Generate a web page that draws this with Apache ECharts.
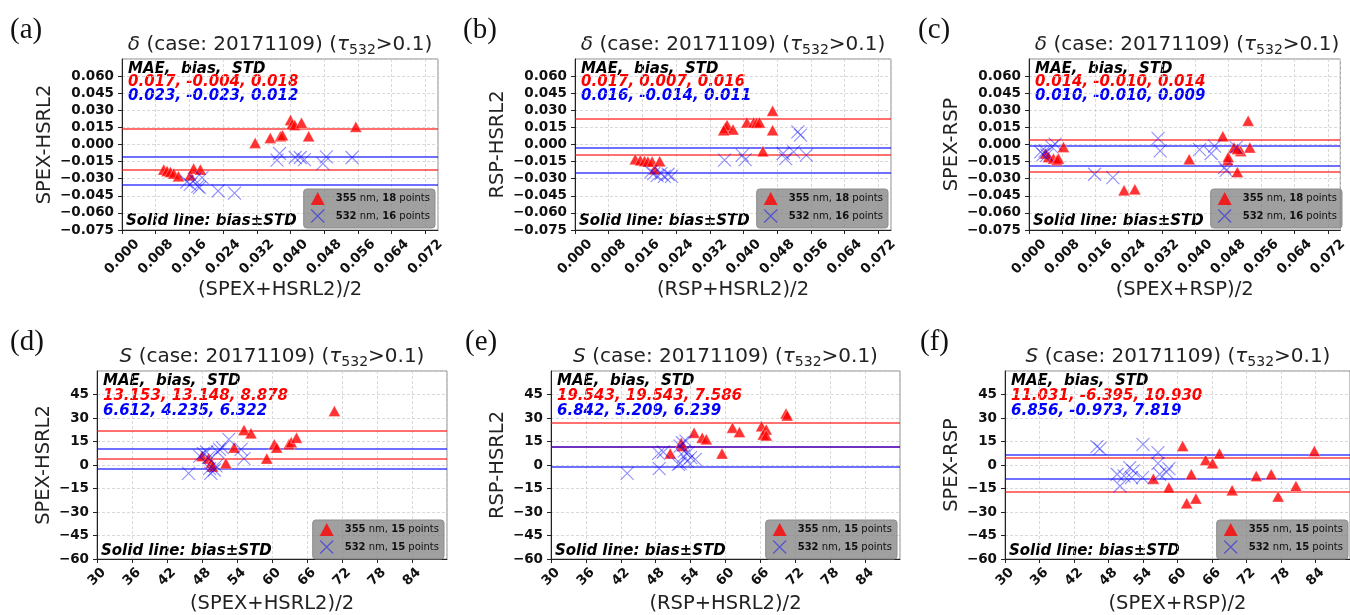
<!DOCTYPE html>
<html><head><meta charset="utf-8">
<script src="https://cdn.jsdelivr.net/npm/echarts@6/dist/echarts.min.js"></script>
<style>html,body{margin:0;padding:0;background:#fff}#c{width:1350px;height:615px}</style>
</head><body><div id="c"></div><script>
// ---------------- DATA ----------------
const panelLabels = ['(a)', '(b)', '(c)', '(d)', '(e)', '(f)'];
const varNames = ['δ', 'δ', 'δ', 'S', 'S', 'S'];
const caseId = '20171109';
const yNames = ['SPEX-HSRL2', 'RSP-HSRL2', 'SPEX-RSP', 'SPEX-HSRL2', 'RSP-HSRL2', 'SPEX-RSP'];
const xNames = ['(SPEX+HSRL2)/2', '(RSP+HSRL2)/2', '(SPEX+RSP)/2', '(SPEX+HSRL2)/2', '(RSP+HSRL2)/2', '(SPEX+RSP)/2'];
// [MAE, bias, STD]
const stats355 = [[0.017, -0.004, 0.018], [0.017, 0.007, 0.016], [0.014, -0.010, 0.014],
                  [13.153, 13.148, 8.878], [19.543, 19.543, 7.586], [11.031, -6.395, 10.930]];
const stats532 = [[0.023, -0.023, 0.012], [0.016, -0.014, 0.011], [0.010, -0.010, 0.009],
                  [6.612, 4.235, 6.322], [6.842, 5.209, 6.239], [6.856, -0.973, 7.819]];
const count355 = [18, 18, 18, 15, 15, 15];
const count532 = [16, 16, 16, 15, 15, 15];

// (a) delta SPEX-HSRL2
const a355x = [0.0099, 0.0107, 0.0115, 0.0123, 0.0134, 0.0162, 0.0170, 0.0186, 0.0316, 0.0352, 0.0376, 0.0381, 0.0400, 0.0404, 0.0410, 0.0426, 0.0443, 0.0555];
const a355y = [-0.0220, -0.0232, -0.0241, -0.0255, -0.0279, -0.0270, -0.0211, -0.0220, 0.0014, 0.0058, 0.0073, 0.0082, 0.0214, 0.0179, 0.0170, 0.0190, 0.0073, 0.0155];
const a532x = [0.0154, 0.0162, 0.0172, 0.0180, 0.0190, 0.0184, 0.0228, 0.0267, 0.0368, 0.0374, 0.0411, 0.0423, 0.0433, 0.0477, 0.0485, 0.0546];
const a532y = [-0.0329, -0.0349, -0.0308, -0.0367, -0.0290, -0.0378, -0.0408, -0.0426, -0.0138, -0.0079, -0.0114, -0.0114, -0.0132, -0.0167, -0.0109, -0.0114];
// (b) delta RSP-HSRL2
const b355x = [0.0143, 0.0155, 0.0165, 0.0173, 0.0183, 0.0189, 0.0201, 0.0357, 0.0361, 0.0375, 0.0408, 0.0424, 0.0431, 0.0438, 0.0469, 0.0469, 0.0446, 0.0353];
const b355y = [-0.0129, -0.0138, -0.0144, -0.0150, -0.0150, -0.0217, -0.0147, 0.0150, 0.0170, 0.0132, 0.0194, 0.0194, 0.0190, 0.0194, 0.0296, 0.0126, -0.0059, 0.0126];
const b532x = [0.0187, 0.0195, 0.0204, 0.0212, 0.0221, 0.0229, 0.0180, 0.0355, 0.0397, 0.0404, 0.0494, 0.0500, 0.0519, 0.0529, 0.0535, 0.0549];
const b532y = [-0.0255, -0.0273, -0.0255, -0.0279, -0.0261, -0.0279, -0.0241, -0.0138, -0.0094, -0.0132, -0.0079, -0.0123, -0.0065, 0.0111, 0.0082, -0.0094];
// (c) delta SPEX-RSP
const c355x = [0.0040, 0.0047, 0.0059, 0.0067, 0.0071, 0.0083, 0.0229, 0.0255, 0.0386, 0.0467, 0.0479, 0.0480, 0.0494, 0.0502, 0.0510, 0.0528, 0.0532, 0.0502];
const c355y = [-0.0079, -0.0109, -0.0123, -0.0138, -0.0123, -0.0021, -0.0402, -0.0393, -0.0129, 0.0073, -0.0138, -0.0109, -0.0026, -0.0241, -0.0056, 0.0208, -0.0026, -0.0039];
const c532x = [0.0028, 0.0034, 0.0039, 0.0043, 0.0055, 0.0063, 0.0158, 0.0202, 0.0311, 0.0316, 0.0411, 0.0439, 0.0447, 0.0471, 0.0475, 0.0499];
const c532y = [-0.0065, -0.0088, -0.0056, -0.0094, -0.0021, 0.0003, -0.0261, -0.0291, 0.0053, -0.0056, -0.0044, -0.0079, -0.0015, -0.0203, -0.0226, -0.0026];
// (d) S SPEX-HSRL2
const d355x = [48.0, 49.1, 49.6, 49.8, 52.1, 53.5, 55.2, 56.4, 59.1, 60.4, 60.8, 62.9, 63.3, 64.2, 70.7];
const d355y = [5.7, 4.1, 1.5, -1.0, 1.1, 11.1, 22.3, 20.2, 4.1, 13.2, 11.1, 13.2, 14.6, 17.4, 34.4];
const d532x = [45.7, 47.6, 48.2, 48.8, 49.1, 49.3, 49.5, 50.1, 50.4, 51.0, 51.5, 52.6, 54.7, 55.2, 50.7];
const d532y = [-5.3, 5.7, 7.4, 8.3, 4.7, -2.3, -5.3, -3.2, -0.6, 10.0, 11.1, 16.4, 10.0, 4.1, 8.3];
// (e) S RSP-HSRL2
const e355x = [50.5, 52.4, 52.6, 54.6, 56.0, 56.7, 59.4, 61.2, 62.4, 66.2, 67.0, 66.5, 67.0, 70.4, 70.6];
const e355y = [7.4, 14.2, 12.1, 20.6, 17.4, 16.4, 7.3, 23.8, 21.0, 24.8, 22.7, 19.5, 18.9, 32.9, 31.6];
const e532x = [43.1, 48.6, 48.5, 49.3, 51.9, 52.2, 52.6, 52.9, 53.4, 53.6, 54.8, 52.8, 53.2, 52.2, 54.0];
const e532y = [-5.3, -2.3, 7.4, 8.3, 0.4, 12.1, 14.2, 8.9, 2.5, 7.9, 3.6, 5.7, 15.3, 1.1, 4.7];
// (f) S SPEX-RSP
const f355x = [55.8, 58.5, 60.9, 61.6, 62.4, 63.2, 64.9, 66.1, 67.3, 69.5, 73.7, 76.3, 77.5, 80.6, 83.8];
const f355y = [-8.7, -14.4, 12.1, -24.4, -5.9, -21.4, 3.2, 1.1, 7.4, -16.1, -7.0, -5.9, -20.1, -13.4, 8.9];
const f532x = [46.0, 46.5, 49.5, 50.0, 50.7, 51.7, 52.3, 52.0, 54.0, 53.9, 56.6, 56.6, 56.9, 58.1, 58.5];
const f532y = [11.7, 10.4, -5.9, -13.4, -7.0, -1.7, -3.8, -8.0, 13.2, -8.0, 7.9, 1.1, -5.9, -4.5, -2.3];

// axis ranges and ticks
const topX = {min: 0, max: 0.075, interval: 0.008, digits: 3};
const topY = {min: -0.075, max: 0.075, interval: 0.015, digits: 3};
const botX = {min: 30, max: 90, interval: 6, digits: 0};
const botY = {min: -60, max: 60, interval: 15, digits: 0};

// ---------------- LAYOUT ----------------
const FONT = 'DejaVu Sans';
const grids = [
  {left: 122, top: 59, width: 316, height: 171},
  {left: 575, top: 59, width: 316, height: 171},
  {left: 1029, top: 59, width: 316, height: 171},
  {left: 97, top: 371, width: 350, height: 190},
  {left: 551, top: 371, width: 349, height: 190},
  {left: 1005, top: 371, width: 346, height: 190}
];
const xs355 = [a355x, b355x, c355x, d355x, e355x, f355x];
const ys355 = [a355y, b355y, c355y, d355y, e355y, f355y];
const xs532 = [a532x, b532x, c532x, d532x, e532x, f532x];
const ys532 = [a532y, b532y, c532y, d532y, e532y, f532y];

function fmt(v, d) {
  if (Math.abs(v) < 1e-9) v = 0;
  const s = Math.abs(v).toFixed(d);
  return (v < 0 ? '\u2212' : '') + s;
}
const XPATH = 'path://M0 0L10 10M10 0L0 10';
const annStyle = (text, fill) => ({text, fontFamily: FONT, fontSize: 15, fontWeight: 'bold', fontStyle: 'italic',
  fill, align: 'left', verticalAlign: 'middle'});

const option = {animation: false, grid: [], xAxis: [], yAxis: [], series: [], legend: [], graphic: []};
const legendMap = {};

grids.forEach((g, i) => {
  const top = i < 3;
  const xr = top ? topX : botX, yr = top ? topY : botY;
  option.grid.push({left: g.left, top: g.top, width: g.width, height: g.height, show: true,
    borderColor: '#8a8a8a', borderWidth: 1, backgroundColor: 'transparent', containLabel: false});
  option.xAxis.push({
    type: 'value', gridIndex: i, min: xr.min, max: xr.max, interval: xr.interval,
    name: xNames[i], nameLocation: 'middle', nameGap: top ? 50 : 35,
    nameTextStyle: {fontFamily: FONT, fontSize: 19.5, color: '#222'},
    axisLine: {show: true, onZero: false, lineStyle: {color: '#222', width: 1}},
    axisTick: {show: true, length: 4, lineStyle: {color: '#222'}},
    axisLabel: {rotate: 45, align: 'center', verticalAlign: 'middle', margin: top ? 27 : 18,
      showMaxLabel: false, fontFamily: FONT, fontWeight: 'bold', fontSize: 13.5, color: '#111',
      formatter: v => fmt(v, xr.digits)},
    splitLine: {show: true, lineStyle: {color: '#cfcfcf', type: [3, 2], width: 0.8}}
  });
  option.yAxis.push({
    type: 'value', gridIndex: i, min: yr.min, max: yr.max, interval: yr.interval,
    name: yNames[i], nameLocation: 'middle', nameGap: top ? 67 : 43,
    nameTextStyle: {fontFamily: FONT, fontSize: 19.5, color: '#222'},
    axisLine: {show: true, onZero: false, lineStyle: {color: '#222', width: 1}},
    axisTick: {show: true, length: 4, lineStyle: {color: '#222'}},
    axisLabel: {margin: 8, showMaxLabel: false, fontFamily: FONT, fontWeight: 'bold', fontSize: 13.5, color: '#111',
      formatter: v => fmt(v, yr.digits)},
    splitLine: {show: true, lineStyle: {color: '#cfcfcf', type: [3, 2], width: 0.8}}
  });
  const s3 = stats355[i], s5 = stats532[i];
  const n355 = 's355_' + i, n532 = 's532_' + i;
  legendMap[n355] = '{b|355} nm, {b|' + count355[i] + '} points';
  legendMap[n532] = '{b|532} nm, {b|' + count532[i] + '} points';
  option.series.push({
    type: 'scatter', name: n355, xAxisIndex: i, yAxisIndex: i, z: 3,
    data: xs355[i].map((x, j) => [x, ys355[i][j]]),
    symbol: 'triangle', symbolSize: [12, 11],
    itemStyle: {color: '#ff0000', borderColor: 'rgba(255,255,255,0.7)', borderWidth: 0.6},
    emphasis: {disabled: true},
    markLine: {silent: true, symbol: 'none', precision: 6, label: {show: false}, z: 2,
      lineStyle: {color: 'rgba(255,0,0,0.75)', width: 1.5, type: 'solid'},
      data: [{yAxis: s3[1] + s3[2]}, {yAxis: s3[1] - s3[2]}]}
  });
  option.series.push({
    type: 'scatter', name: n532, xAxisIndex: i, yAxisIndex: i, z: 4,
    data: xs532[i].map((x, j) => [x, ys532[i][j]]),
    symbol: XPATH, symbolSize: 13,
    itemStyle: {color: 'none', borderColor: 'rgba(0,0,255,0.55)', borderWidth: 1.1},
    emphasis: {disabled: true},
    markLine: {silent: true, symbol: 'none', precision: 6, label: {show: false}, z: 2,
      lineStyle: {color: 'rgba(0,0,255,0.75)', width: 1.5, type: 'solid'},
      data: [{yAxis: s5[1] + s5[2]}, {yAxis: s5[1] - s5[2]}]}
  });
  option.legend.push({
    orient: 'vertical', right: 1350 - (g.left + g.width) + 3, bottom: 615 - (g.top + g.height) + 2,
    backgroundColor: 'rgba(128,128,128,0.75)', borderColor: '#8c8c8c', borderWidth: 1, borderRadius: 3,
    padding: [3, 5, 3, 5], itemGap: 2, itemWidth: 14, itemHeight: 13,
    selectedMode: false,
    textStyle: {fontFamily: FONT, fontSize: 10, color: '#111', lineHeight: 13, padding: [0, 0, 0, 6],
      rich: {b: {fontFamily: FONT, fontSize: 10, lineHeight: 13, fontWeight: 'bold', color: '#111'}}},
    formatter: name => legendMap[name],
    data: [
      {name: n355, icon: 'triangle', itemStyle: {color: '#ff0000', borderWidth: 0}},
      {name: n532, icon: XPATH, itemStyle: {color: 'none', borderColor: 'rgba(0,0,255,0.6)', borderWidth: 1.2}}
    ]
  });
  // texts
  const cx = g.left + g.width / 2;
  const ann = top ? [15, 28.5, 42.5] : [15, 30, 45];
  option.graphic.push(
    {type: 'text', x: top ? [10, 463, 918][i] : [10, 465, 920][i - 3], y: top ? 30 : 342,
      style: {text: panelLabels[i], fontFamily: 'Liberation Serif', fontSize: 29, fill: '#111', align: 'left', verticalAlign: 'middle'}},
    {type: 'text', x: cx, y: top ? 45 : 357,
      style: {text: '{i|' + varNames[i] + '} (case: ' + caseId + ') ({i|τ}{s|532}>0.1)',
        fontFamily: FONT, fontSize: 20, fill: '#222', align: 'center', verticalAlign: 'middle',
        rich: {i: {fontFamily: FONT, fontSize: 20, fontStyle: 'italic', fill: '#222'},
               s: {fontFamily: FONT, fontSize: 14, fill: '#222', padding: [10, 0, 0, 0]}}}},
    {type: 'text', x: g.left + 6, y: g.top + ann[0] - 5, style: annStyle('MAE,  bias,  STD', '#000')},
    {type: 'text', x: g.left + 6, y: g.top + ann[1] - 5, style: annStyle(s3.map(v => v.toFixed(3)).join(', '), '#ff0000')},
    {type: 'text', x: g.left + 6, y: g.top + ann[2] - 5, style: annStyle(s5.map(v => v.toFixed(3)).join(', '), '#0000ff')},
    {type: 'text', x: g.left + 4, y: g.top + g.height - (top ? 4.3 : 5.3) - 5, style: annStyle('Solid line: bias±STD', '#000')}
  );
});

const chart = echarts.init(document.getElementById('c'), null, {renderer: 'canvas'});
chart.setOption(option);
</script></body></html>
